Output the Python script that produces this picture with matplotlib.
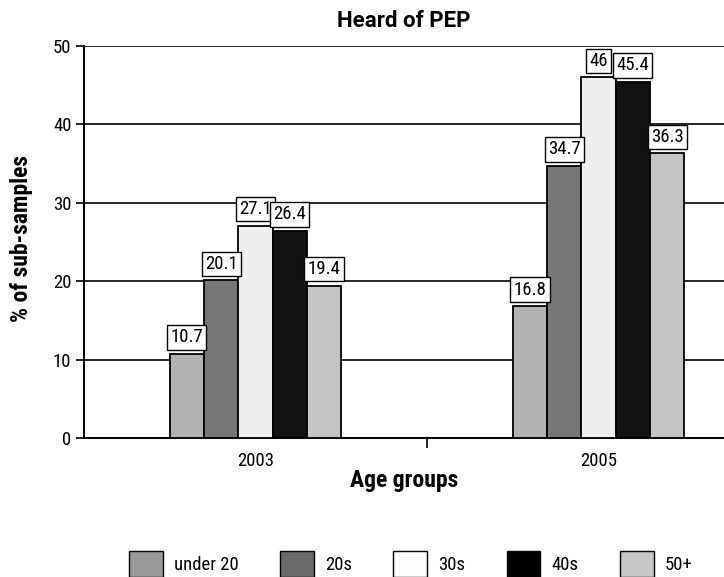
import matplotlib
matplotlib.use("Agg")
import matplotlib.pyplot as plt
from matplotlib.patches import Patch
from matplotlib.ticker import FixedLocator, NullFormatter

plt.rcParams['font.family'] = ['Roboto Condensed', 'DejaVu Sans']

years = ["2003", "2005"]
groups = ["under 20", "20s", "30s", "40s", "50+"]
values = {
    "under 20": [10.7, 16.8],
    "20s": [20.1, 34.7],
    "30s": [27.1, 46],
    "40s": [26.4, 45.4],
    "50+": [19.4, 36.3],
}
bar_colors = ["#b2b2b2", "#777777", "#efefef", "#111111", "#c4c4c4"]
legend_colors = ["#999999", "#6a6a6a", "#fefefe", "#000000", "#c8c8c8"]
yticks = [0, 10, 20, 30, 40, 50]

W, H = 724, 577
fig = plt.figure(figsize=(W / 100, H / 100), dpi=100)
ax = fig.add_axes([84 / W, (H - 438) / H, (W - 84) / W, 392 / H])

bw = 0.1
for i, g in enumerate(groups):
    xs = [c + (i - 2) * bw for c in range(len(years))]
    ax.bar(xs, values[g], width=bw, color=bar_colors[i], edgecolor="black",
           linewidth=1.3, zorder=3)
    for x, v in zip(xs, values[g]):
        lab = ("%g" % v)
        ax.annotate(lab, xy=(x, v), xytext=(0, 5.5), textcoords="offset points",
                    ha="center", va="bottom", fontsize=13.5, zorder=5,
                    bbox=dict(boxstyle="square,pad=0.17", fc="white",
                              ec="black", lw=1))

ax.set_ylim(0, 50)
ax.set_xlim(-0.5, (W - 84) / 343 - 0.5)
ax.set_yticks(yticks)
ax.set_yticklabels([str(t) for t in yticks], fontsize=13.5)
ax.yaxis.grid(True, color="black", linewidth=1.2, zorder=0)
ax.set_axisbelow(True)
ax.tick_params(axis="y", length=6, width=1.2, pad=3)

ax.xaxis.set_major_locator(FixedLocator([0.5]))
ax.xaxis.set_major_formatter(NullFormatter())
ax.set_xticks([0, 1], minor=True)
ax.set_xticklabels(years, minor=True, fontsize=13.5)
ax.tick_params(axis="x", which="minor", length=0, pad=10)
ax.tick_params(axis="x", which="major", length=7, width=1.2)

for s in ["top", "right"]:
    ax.spines[s].set_visible(False)
ax.spines["left"].set_linewidth(1.4)
ax.spines["bottom"].set_linewidth(1.4)

fig.text(404 / W, 1 - 21 / H, "Heard of PEP", ha="center", va="center",
         fontsize=16, fontweight="bold", family=["Roboto", "DejaVu Sans"])
fig.text(404 / W, 1 - 481 / H, "Age groups", ha="center", va="center",
         fontsize=17, fontweight="bold")
fig.text(22 / W, 1 - 238 / H, "% of sub-samples", ha="center", va="center",
         rotation=90, fontsize=17, fontweight="bold")

handles = [Patch(facecolor=c, edgecolor="black", linewidth=1) for c in legend_colors]
leg = fig.legend(handles, groups, loc="center", bbox_to_anchor=(411 / W, 1 - 564 / H),
                 ncol=5, frameon=False, fontsize=13.5, handlelength=1.8,
                 handleheight=1.7, columnspacing=2.2, handletextpad=0.6)

fig.savefig("out.png", dpi=100)
